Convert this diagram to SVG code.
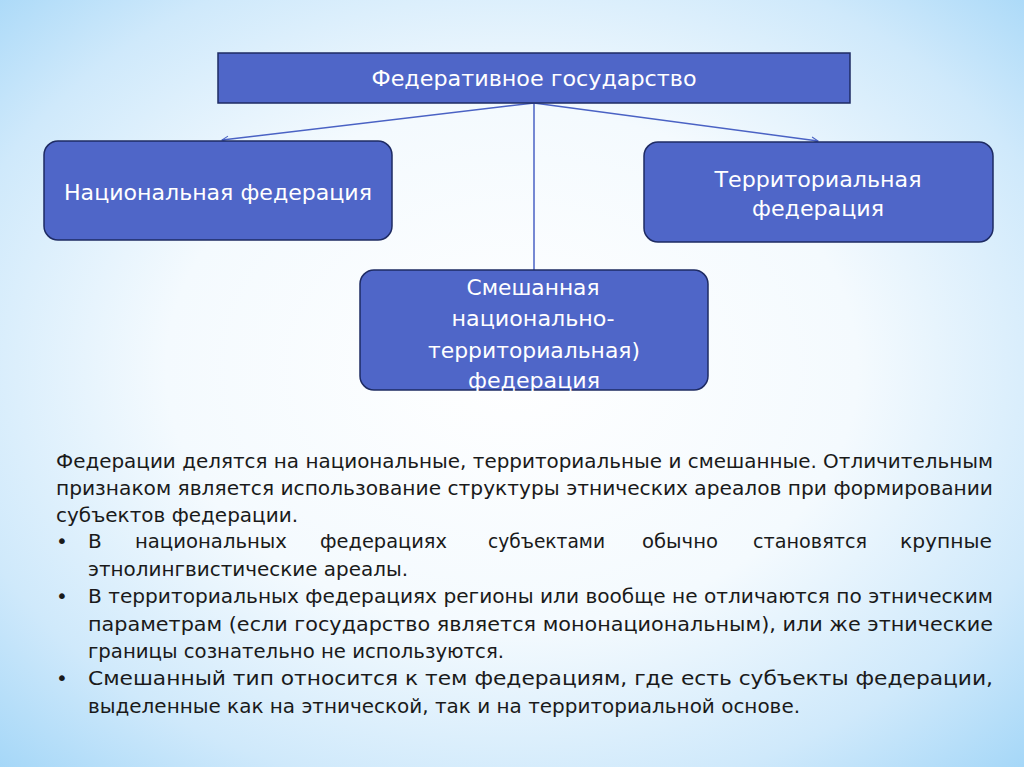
<svg xmlns="http://www.w3.org/2000/svg" width="1024" height="767" viewBox="0 0 1024 767">
<defs>
<radialGradient id="bg" cx="50%" cy="48%" r="75%">
<stop offset="0" stop-color="#ffffff"/>
<stop offset="0.45" stop-color="#f4fafe"/>
<stop offset="0.75" stop-color="#cfe9fb"/>
<stop offset="1" stop-color="#9ed4f7"/>
</radialGradient>
<marker id="arr" viewBox="0 0 10 10" refX="9" refY="5" markerWidth="8" markerHeight="8" orient="auto" markerUnits="userSpaceOnUse">
<path d="M1,1 L9,5 L1,9" fill="none" stroke="#4a62c4" stroke-width="1.3"/>
</marker>
<style>
.box{fill:#4f66c8;stroke:#1e2b63;stroke-width:1.5}
.nt{font-family:"DejaVu Sans","Liberation Sans",sans-serif;font-size:22px;fill:#ffffff;text-anchor:middle}
.bt{font-family:"DejaVu Sans","Liberation Sans",sans-serif;font-size:20px;fill:#1a1a1a}
.con{stroke:#4a62c4;stroke-width:1.5;fill:none}
</style>
</defs>
<rect x="0" y="0" width="1024" height="767" fill="url(#bg)"/>

<g id="connectors">
<line class="con" x1="534" y1="103" x2="222" y2="140" marker-end="url(#arr)"/>
<line class="con" x1="534" y1="103" x2="818" y2="141" marker-end="url(#arr)"/>
<line class="con" x1="534" y1="103" x2="534" y2="270"/>
</g>

<g id="node-federal-state">
<rect class="box" x="218" y="53" width="632" height="50"/>
<text class="nt" x="534" y="86" font-size="21" textLength="325" lengthAdjust="spacingAndGlyphs">Федеративное государство</text>
</g>

<g id="node-national">
<rect class="box" x="44" y="141" width="348" height="99" rx="14"/>
<text class="nt" x="218" y="200" textLength="308" lengthAdjust="spacingAndGlyphs">Национальная федерация</text>
</g>

<g id="node-territorial">
<rect class="box" x="644" y="142" width="349" height="100" rx="14"/>
<text class="nt" x="818" y="187" textLength="207" lengthAdjust="spacingAndGlyphs">Территориальная</text>
<text class="nt" x="818" y="216" textLength="132" lengthAdjust="spacingAndGlyphs">федерация</text>
</g>

<g id="node-mixed">
<rect class="box" x="360" y="270" width="348" height="120" rx="14"/>
<text class="nt" x="533" y="295" textLength="133" lengthAdjust="spacingAndGlyphs">Смешанная</text>
<text class="nt" x="533" y="326" textLength="163" lengthAdjust="spacingAndGlyphs">национально-</text>
<text class="nt" x="534" y="358" textLength="212" lengthAdjust="spacingAndGlyphs">территориальная)</text>
<text class="nt" x="534" y="388" textLength="132" lengthAdjust="spacingAndGlyphs">федерация</text>
</g>

<g id="body-text">
<text class="bt" x="56" y="468" textLength="937" lengthAdjust="spacingAndGlyphs">Федерации делятся на национальные, территориальные и смешанные. Отличительным</text>
<text class="bt" x="56" y="495" textLength="937" lengthAdjust="spacingAndGlyphs">признаком является использование структуры этнических ареалов при формировании</text>
<text class="bt" x="56" y="522" textLength="242" lengthAdjust="spacingAndGlyphs">субъектов федерации.</text>
<text class="bt" x="56" y="548">•</text>
<text class="bt" x="88" y="548">В</text>
<text class="bt" x="135" y="548" textLength="152" lengthAdjust="spacingAndGlyphs">национальных</text>
<text class="bt" x="320" y="548" textLength="127" lengthAdjust="spacingAndGlyphs">федерациях</text>
<text class="bt" x="488" y="548" textLength="117" lengthAdjust="spacingAndGlyphs">субъектами</text>
<text class="bt" x="642" y="548" textLength="76" lengthAdjust="spacingAndGlyphs">обычно</text>
<text class="bt" x="753" y="548" textLength="114" lengthAdjust="spacingAndGlyphs">становятся</text>
<text class="bt" x="900" y="548" textLength="92" lengthAdjust="spacingAndGlyphs">крупные</text>
<text class="bt" x="88" y="576" textLength="320" lengthAdjust="spacingAndGlyphs">этнолингвистические ареалы.</text>
<text class="bt" x="56" y="603">•</text>
<text class="bt" x="88" y="603" textLength="905" lengthAdjust="spacingAndGlyphs">В территориальных федерациях регионы или вообще не отличаются по этническим</text>
<text class="bt" x="88" y="631" textLength="905" lengthAdjust="spacingAndGlyphs">параметрам (если государство является мононациональным), или же этнические</text>
<text class="bt" x="88" y="658" textLength="416" lengthAdjust="spacingAndGlyphs">границы сознательно не используются.</text>
<text class="bt" x="56" y="685">•</text>
<text class="bt" x="88" y="685" textLength="905" lengthAdjust="spacingAndGlyphs">Смешанный тип относится к тем федерациям, где есть субъекты федерации,</text>
<text class="bt" x="88" y="713" textLength="712" lengthAdjust="spacingAndGlyphs">выделенные как на этнической, так и на территориальной основе.</text>
</g>
</svg>
